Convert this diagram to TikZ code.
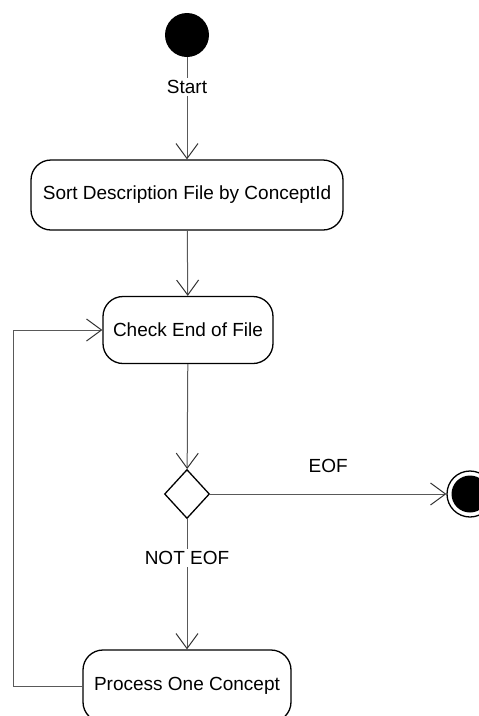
\documentclass[tikz,border=0pt]{standalone}
\usepackage{fontspec}
\setmainfont{Liberation Sans}
\usetikzlibrary{arrows.meta,shapes.geometric}
\begin{document}
\begin{tikzpicture}[x=1pt,y=-1pt,
  act/.style={draw=black, line width=1.3pt, rounded corners=20pt, fill=white, inner sep=0pt, font=\fontsize{19}{22}\selectfont},
  conn/.style={draw=black!65, line width=1pt, -{Straight Barb[length=15pt,width=22pt,line width=1pt,color=black!80]}},
  lbl/.style={fill=white, inner sep=2pt, font=\fontsize{19}{22}\selectfont},
  tlbl/.style={inner sep=0pt, font=\fontsize{19}{22}\selectfont}]
\useasboundingbox (0,0) rectangle (479,716);
\node[circle, fill=black, minimum size=44pt, inner sep=0pt] (start) at (187,35) {};
\node[act, minimum width=312pt, minimum height=70pt] (sort) at (187,195) {Sort Description File by ConceptId};
\node[act, minimum width=170pt, minimum height=67pt] (check) at (188,330) {Check End of File};
\node[diamond, draw=black, line width=1.3pt, fill=white, minimum width=45pt, minimum height=49pt, inner sep=0pt] (dec) at (187,494) {};
\node[circle, draw=black, line width=1.3pt, fill=white, minimum size=46pt, inner sep=0pt] (endo) at (470,494) {};
\node[circle, fill=black, minimum size=37pt, inner sep=0pt] (endi) at (470,494) {};
\node[act, minimum width=208pt, minimum height=72pt] (proc) at (187,686) {Process One Concept};
\coordinate (loopc) at (13,686);
\draw[conn] (start) -- node[lbl, pos=0.29] {Start} (sort);
\draw[conn] (sort) -- (check);
\draw[conn] (check) -- (dec);
\draw[conn] (dec) -- node[tlbl, midway, yshift=28pt] {EOF} (endo);
\draw[conn] (dec) -- node[lbl, pos=0.30] {NOT EOF} (proc);
\draw[conn] (proc.west) -- (loopc) |- (check.west);
\end{tikzpicture}
\end{document}
